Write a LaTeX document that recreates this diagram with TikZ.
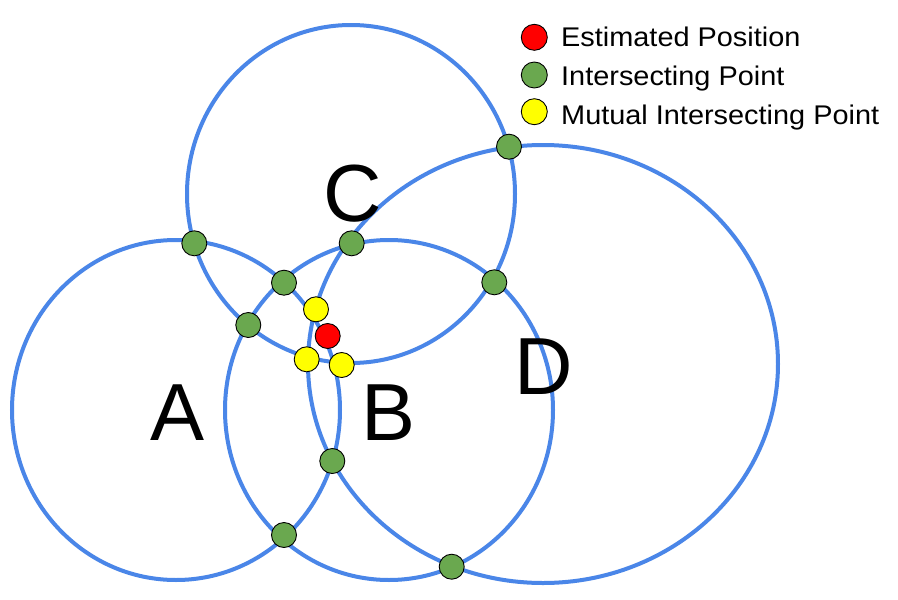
\documentclass[tikz,border=0pt]{standalone}
\usepackage{fontspec}
\usepackage{graphicx}
\setmainfont{Liberation Sans}
\definecolor{ringblue}{HTML}{4A86E8}
\definecolor{ptgreen}{HTML}{6AA84F}
\definecolor{ptred}{HTML}{FF0000}
\definecolor{ptyellow}{HTML}{FFFF00}
\begin{document}
\begin{tikzpicture}[x=1pt,y=-1pt,
  ring/.style={draw=ringblue,line width=4pt},
  dotbase/.style={circle,draw=black,line width=0.9pt,inner sep=0pt,minimum size=25pt},
  gdot/.style={dotbase,fill=ptgreen},
  ydot/.style={dotbase,fill=ptyellow},
  rdot/.style={dotbase,fill=ptred},
  bigletter/.style={anchor=base west,inner sep=0pt,font=\fontsize{81}{81}\selectfont},
  legtext/.style={anchor=base west,inner sep=0pt,font=\fontsize{27}{27}\selectfont}
]
\useasboundingbox (0,0) rectangle (898,600);
\fill[white] (0,0) rectangle (898,600);
% circles
\draw[ring] (176,410) ellipse [x radius=164pt, y radius=170pt];
\draw[ring] (389,410) ellipse [x radius=164pt, y radius=170pt];
\draw[ring] (351,194) ellipse [x radius=164pt, y radius=169pt];
\draw[ring] (543,364) ellipse [x radius=235pt, y radius=219pt];
% letters
\node[bigletter] (lA) at (150,440) {A};
\node[bigletter] (lB) at (361,440) {B};
\node[bigletter] (lC) at (323,221) {C};
\node[bigletter] (lD) at (514,394) {D};
% intersecting points
\node[gdot] (g1) at (194.3,243.3) {};
\node[gdot] (g2) at (351.7,243.3) {};
\node[gdot] (g3) at (284,282.7) {};
\node[gdot] (g4) at (248.3,325) {};
\node[gdot] (g5) at (509,146.7) {};
\node[gdot] (g6) at (494.3,282.3) {};
\node[gdot] (g7) at (332.3,461) {};
\node[gdot] (g8) at (284,535) {};
\node[gdot] (g9) at (451.7,566.7) {};
% mutual intersecting points
\node[ydot] (y1) at (316,309.3) {};
\node[ydot] (y2) at (306.7,359.3) {};
\node[ydot] (y3) at (341.7,365) {};
% estimated position
\node[rdot] (r1) at (327.7,336) {};
% legend
\node[rdot,minimum size=26pt] (lr) at (534.3,37.3) {};
\node[gdot,minimum size=26pt] (lg) at (534.3,75) {};
\node[ydot,minimum size=26pt] (ly) at (534.3,111.7) {};
\node[legtext] (t1) at (561,46) {\scalebox{1.07}[1]{Estimated Position}};
\node[legtext] (t2) at (561,85) {\scalebox{1.07}[1]{Intersecting Point}};
\node[legtext] (t3) at (561,124) {\scalebox{1.07}[1]{Mutual Intersecting Point}};
\end{tikzpicture}
\end{document}
